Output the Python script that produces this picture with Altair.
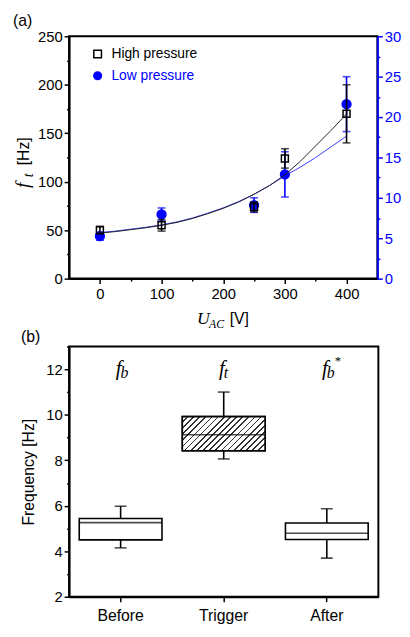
import altair as alt
import pandas as pd

# ---------------- panel (a) data ----------------
u_vals = [0, 100, 250, 300, 400]
high_vals = [50, 55, 74, 124, 170]
high_err = [4, 6, 5, 10, 30]
low_vals = [5.25, 7.95, 9.1, 12.9, 21.6]
low_err = [0.5, 0.8, 0.9, 2.8, 3.4]

fit_u = [0, 25, 50, 75, 100, 125, 150, 175, 200, 225, 250, 275, 300, 325, 350, 375, 400]
high_fit = [47, 48.5, 50.5, 52.5, 55, 58, 62, 67, 72.5, 79, 87, 96, 107, 121, 137, 153, 170]
low_fit = [5.70, 5.88, 6.12, 6.36, 6.66, 7.02, 7.50, 8.10, 8.76, 9.54, 10.44, 11.52,
           12.72, 13.80, 15.00, 16.32, 17.64]

series_names = ["High pressure", "Low pressure"]

x_ticks = [0, 50, 100, 150, 200, 250, 300, 350, 400]
left_ticks = [0, 25, 50, 75, 100, 125, 150, 175, 200, 225, 250]
right_ticks = [0, 2.5, 5, 7.5, 10, 12.5, 15, 17.5, 20, 22.5, 25, 27.5, 30]

# ---------------- panel (b) data ----------------
cats = ["Before", "Trigger", "After"]
box_q1 = [4.50, 8.42, 4.52]
box_med = [5.26, 9.12, 4.79]
box_q3 = [5.44, 9.92, 5.24]
box_lo = [4.15, 8.06, 3.70]
box_hi = [5.98, 11.0, 5.87]
ann_main = ["f", "f", "f"]
ann_sub = ["b", "t", "b"]
ann_sup = ["", "", "*"]
ann_level = [11.75, 11.75, 11.75]
y_ticks_b = [2, 3, 4, 5, 6, 7, 8, 9, 10, 11, 12, 13]

# ---------------- style ----------------
BLUE = "#0000ff"
BLUE_LINE = "#3b3bff"
SANS = "Liberation Sans"
SERIF = "Liberation Serif"
W_A, H_A = 313, 246
W_B, H_B = 314, 254
BOX_PX = 84

# ---------------- frames ----------------
high_df = pd.DataFrame({
    "U": u_vals, "f": high_vals,
    "lo": [v - e for v, e in zip(high_vals, high_err)],
    "hi": [v + e for v, e in zip(high_vals, high_err)],
    "series": series_names[0],
})
low_df = pd.DataFrame({
    "U": u_vals, "f": low_vals,
    "lo": [v - e for v, e in zip(low_vals, low_err)],
    "hi": [v + e for v, e in zip(low_vals, low_err)],
    "series": series_names[1],
})
high_fit_df = pd.DataFrame({"U": fit_u, "f": high_fit})
low_fit_df = pd.DataFrame({"U": fit_u, "f": low_fit})
one = pd.DataFrame({"k": [0]})


def minor_size(major_mod):
    return {"condition": {"test": f"datum.value % {major_mod} == 0", "value": 5}, "value": 2.5}


ax_x = alt.Axis(values=x_ticks, labelExpr="datum.value % 100 == 0 ? datum.label : ''",
                tickSize=minor_size(100), title=None, labelFontSize=15, labelPadding=3)
ax_left = alt.Axis(values=left_ticks, labelExpr="datum.value % 50 == 0 ? datum.label : ''",
                   tickSize=minor_size(50), title=None, labelFontSize=15, orient="left")
ax_right = alt.Axis(values=right_ticks, labelExpr="datum.value % 5 == 0 ? datum.label : ''",
                    tickSize=minor_size(5), title=None, labelFontSize=15, orient="right",
                    domainColor=BLUE, tickColor=BLUE, labelColor=BLUE)

x_enc = alt.X("U:Q", scale=alt.Scale(domain=[-50, 450], nice=False, zero=False), axis=ax_x)
sc_left = alt.Scale(domain=[0, 250], nice=False, zero=False)
sc_right = alt.Scale(domain=[0, 30], nice=False, zero=False)

legend = alt.Legend(
    title=None, orient="none", legendX=22, legendY=11, labelFont=SANS, labelFontSize=14,
    symbolSize=60, symbolStrokeWidth=1.5, rowPadding=8, labelOffset=7,
    labelColor={"expr": "datum.label == 'Low pressure' ? '#0000ff' : '#000000'"},
)
stroke_enc = alt.Stroke("series:N", scale=alt.Scale(domain=series_names, range=["#000000", BLUE]), legend=legend)
fill_enc = alt.Fill("series:N", scale=alt.Scale(domain=series_names, range=["transparent", BLUE]), legend=legend)
shape_enc = alt.Shape("series:N", scale=alt.Scale(domain=series_names, range=["square", "circle"]), legend=legend)


def group(df, fit_df, scale, axis, color, line_color, size):
    y = lambda f: alt.Y(f, scale=scale, axis=axis)
    fit = alt.Chart(fit_df).mark_line(color=line_color, strokeWidth=1).encode(x=x_enc, y=y("f:Q"))
    bars = alt.Chart(df).mark_rule(color=color, strokeWidth=1.6).encode(x=x_enc, y=y("lo:Q"), y2="hi:Q")
    cap_lo = alt.Chart(df).mark_tick(color=color, orient="horizontal", size=8, thickness=1.6).encode(
        x=x_enc, y=y("lo:Q"))
    cap_hi = alt.Chart(df).mark_tick(color=color, orient="horizontal", size=8, thickness=1.6).encode(
        x=x_enc, y=y("hi:Q"))
    pts = alt.Chart(df).mark_point(size=size, strokeWidth=1.5, opacity=1).encode(
        x=x_enc, y=y("f:Q"), stroke=stroke_enc, fill=fill_enc, shape=shape_enc)
    return alt.layer(fit, bars, cap_lo, cap_hi, pts)


right_group = group(low_df, low_fit_df, sc_right, ax_right, BLUE, BLUE_LINE, 80)
left_group = group(high_df, high_fit_df, sc_left, ax_left, "#000000", "#222222", 50)


def txt(text, x, y, font, size, style="normal", angle=0, baseline="alphabetic"):
    return alt.Chart(one).mark_text(
        text=text, font=font, fontSize=size, fontStyle=style, align="left",
        baseline=baseline, angle=angle, color="#000000"
    ).encode(x=alt.value(x), y=alt.value(y))


x_title = [
    txt("U", 130, 292, SERIF, 18, "italic"),
    txt("AC", 142, 296, SERIF, 12, "italic"),
    txt("[V]", 163, 292, SANS, 16),
]
y_title = [
    txt("f", -41, 154, SERIF, 20, "italic", angle=270),
    txt("t", -37, 143, SERIF, 14, "italic", angle=270),
    txt("[Hz]", -41, 131, SANS, 16, angle=270),
]

top = alt.layer(right_group, left_group, *x_title, *y_title).resolve_scale(y="independent").properties(
    width=W_A, height=H_A,
    title=alt.TitleParams("(a)", anchor="start", frame="bounds", fontSize=16, font=SANS,
                          fontWeight="normal", offset=0),
)

# ---------------- panel (b) ----------------
box_df = pd.DataFrame({
    "cat": cats, "q1": box_q1, "med": box_med, "q3": box_q3, "lo": box_lo, "hi": box_hi,
    "main": ann_main, "sub": ann_sub, "sup": ann_sup, "lvl": ann_level,
})

xb = alt.X("cat:N", sort=cats, scale=alt.Scale(paddingInner=0, paddingOuter=0),
           axis=alt.Axis(title=None, labelAngle=0, labelFontSize=16, tickSize=5, labelPadding=6))
ax_b = alt.Axis(values=y_ticks_b, labelExpr="datum.value % 2 == 0 ? datum.label : ''",
                tickSize=minor_size(2), title="Frequency [Hz]", labelFontSize=15,
                titleFontSize=16, titlePadding=9)
sc_b = alt.Scale(domain=[2, 13], nice=False, zero=False)
yb = lambda f: alt.Y(f, scale=sc_b, axis=ax_b)

base_b = alt.Chart(box_df)
whisk = base_b.mark_rule(color="black", strokeWidth=1.6).encode(x=xb, y=yb("lo:Q"), y2="hi:Q")
cap_lo_b = base_b.mark_tick(color="black", orient="horizontal", size=12, thickness=1.6).encode(x=xb, y=yb("lo:Q"))
cap_hi_b = base_b.mark_tick(color="black", orient="horizontal", size=12, thickness=1.6).encode(x=xb, y=yb("hi:Q"))
boxes = base_b.mark_bar(size=BOX_PX, fill="white", stroke="black", strokeWidth=1.6).encode(
    x=xb, y=yb("q1:Q"), y2="q3:Q")

# diagonal hatching of the trigger box as a striped gradient
trig = cats.index("Trigger")
box_h_px = (box_q3[trig] - box_q1[trig]) * H_B / 11.0
k = BOX_PX / box_h_px
gb = (k + 1) / (k * k + 1)
ga = k * gb
n_stripes = 19
stops = []
for i in range(n_stripes):
    a0 = i / n_stripes
    a1 = (i + 0.72) / n_stripes
    a2 = (i + 1) / n_stripes
    stops += [alt.GradientStop(offset=a0, color="#ffffff"), alt.GradientStop(offset=a1, color="#ffffff"),
              alt.GradientStop(offset=a1, color="#333333"), alt.GradientStop(offset=a2, color="#333333")]
hatch = alt.LinearGradient(gradient="linear", stops=stops, x1=0, y1=0, x2=ga, y2=gb)
hatched = base_b.transform_filter(alt.datum.cat == "Trigger").mark_bar(
    size=BOX_PX, fill=hatch, stroke="black", strokeWidth=1.6).encode(x=xb, y=yb("q1:Q"), y2="q3:Q")
median = base_b.mark_tick(color="black", orient="horizontal", size=BOX_PX, thickness=1.6).encode(
    x=xb, y=yb("med:Q"))

ann_f = base_b.mark_text(font=SERIF, fontStyle="italic", fontSize=21, align="right", dx=1,
                         baseline="alphabetic").encode(x=xb, y=yb("lvl:Q"), text="main:N")
ann_s = base_b.mark_text(font=SERIF, fontStyle="italic", fontSize=16, align="left", dx=0, dy=3,
                         baseline="alphabetic").encode(x=xb, y=yb("lvl:Q"), text="sub:N")
ann_p = base_b.mark_text(font=SERIF, fontSize=13, align="left", dx=8, dy=-10,
                         baseline="alphabetic").encode(x=xb, y=yb("lvl:Q"), text="sup:N")

bottom = alt.layer(whisk, cap_lo_b, cap_hi_b, boxes, hatched, median, ann_f, ann_s, ann_p).properties(
    width=W_B, height=H_B,
    title=alt.TitleParams("(b)", anchor="start", frame="bounds", fontSize=16, font=SANS,
                          fontWeight="normal", offset=1),
)

chart = alt.vconcat(top, bottom, spacing=-3).properties(
    padding={"left": 4, "top": 0, "right": 0, "bottom": 0}
).configure_view(
    stroke="black", strokeWidth=2
).configure_axis(
    domainColor="black", domainWidth=2, tickColor="black", tickWidth=1.5, grid=False,
    labelFont=SANS, labelColor="black", titleFont=SANS, titleFontWeight="normal", titleColor="black"
)

chart.save("out.html", embed_options={"renderer": "svg", "actions": False})
